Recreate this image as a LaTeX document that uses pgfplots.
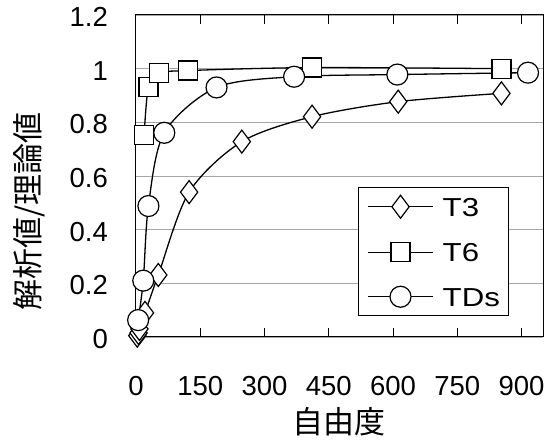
\documentclass[border=0pt]{standalone}
\usepackage{fontspec}
\setmainfont{Liberation Sans}
\newfontfamily\jp{Noto Sans CJK JP}
\newfontfamily\legfont[FakeStretch=1.2]{Liberation Sans}
\usepackage{pgfplots}
\pgfplotsset{compat=1.18}

\begin{document}
\begin{tikzpicture}
\begin{axis}[
  scale only axis,
  width=407pt, height=322pt,
  xmin=0, xmax=950, ymin=0, ymax=1.2,
  xtick={0,150,300,450,600,750,900},
  ytick={0,0.2,0.4,0.6,0.8,1,1.2},
  yticklabels={0,0.2,0.4,0.6,0.8,1,1.2},
  /pgf/number format/assume math mode=true,
  tick align=inside,
  major tick length=9pt,
  ytick style={draw=none},
  xtick style={line width=1pt, black},
  ymajorgrids,
  major grid style={line width=0.9pt, gray!70},
  axis line style={line width=1pt, black},
  ticklabel style={font=\fontsize{27.5}{30}\selectfont, inner sep=0pt},
  xticklabel style={anchor=center, yshift=-49.5pt},
  yticklabel style={anchor=east, xshift=-28pt, yshift=-2pt},
  xlabel={\jp 自由度},
  ylabel={\jp 解析値/理論値},
  label style={font=\fontsize{31}{34}\selectfont},
  xlabel style={at={(axis description cs:0.5,-0.264)}, anchor=center},
  ylabel style={at={(axis description cs:-0.263,0.39)}, anchor=center},
  every axis plot/.append style={line width=1.3pt, black, smooth, tension=0.5},
  legend style={at={(axis description cs:0.545,0.066)}, anchor=south west,
    draw=black, line width=1pt, fill=white,
    font=\legfont\fontsize{26}{28}\selectfont,
    inner xsep=9pt, inner ysep=8pt,
    row sep=24.5pt, column sep=9pt,
    nodes={inner sep=0pt, text height=19pt, text depth=0pt}},
  legend cell align=left,
  legend image code/.code={
    \draw[#1, line width=1.4pt, mark repeat=2, mark phase=2]
      plot coordinates {(0pt,0pt) (32.5pt,0pt) (65pt,0pt)};
  },
]
% T3
\addplot[mark=diamond*, mark options={fill=white, solid, line width=1.2pt}, mark size=11.5pt]
  coordinates {(3,0.005) (6,0.015) (8,0.03) (21,0.09) (52,0.231) (124,0.54)
               (247,0.728) (411,0.821) (612,0.877) (853,0.908)};
\addlegendentry{T3}
% T6
\addplot[mark=square*, mark options={fill=white, solid, line width=1.2pt}, mark size=9.5pt]
  coordinates {(19,0.753) (29,0.933) (54,0.983) (122,0.993) (411,1.004) (853,1.0)};
\addlegendentry{T6}
% TDs
\addplot[mark=*, mark options={fill=white, solid, line width=1.2pt}, mark size=10.5pt]
  coordinates {(5,0.063) (17,0.21) (29,0.488) (66,0.761) (188,0.93)
               (369,0.97) (610,0.978) (915,0.985)};
\addlegendentry{TDs}
\end{axis}
\pgfresetboundingbox
\path[use as bounding box] (current axis.south west) ++(-136pt,-109pt) rectangle ++(552pt,446pt);
\end{tikzpicture}
\end{document}
